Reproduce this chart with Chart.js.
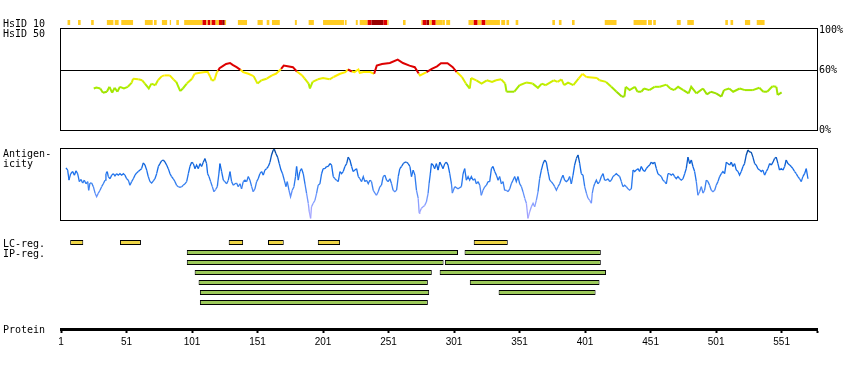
<!DOCTYPE html>
<html><head><meta charset="utf-8">
<script src="https://cdn.jsdelivr.net/npm/chart.js@4/dist/chart.umd.min.js"></script>
<style>html,body{margin:0;padding:0;background:#fff;}#wrap{position:relative;width:850px;height:370px;}</style>
</head><body><div id="wrap"><canvas id="c" width="850" height="370"></canvas></div>
<script>
// ---------------- DATA ----------------
const proteinLength = 577;
const proteinTicks = [1, 51, 101, 151, 201, 251, 301, 351, 401, 451, 501, 551];
const hsidTicks = [0, 60, 100];
const hsidThreshold = 60;
const trackLabels = ['HsID 10', 'HsID 50', 'Antigen-', 'icity', 'LC-reg.', 'IP-reg.', 'Protein'];

// HsID 10: [start residue, end residue, level] level 1 = low, 2 = high, 3 = very high
const hsid10Segments = [
  [6,8,1],[14,16,1],[24,26,1],[36,41,1],[42,45,1],[47,56,1],[65,71,1],[72,74,1],[78,82,1],[84,85,1],
  [89,91,1],[95,109,1],[109,112,2],[112,113,1],[113,115,2],[115,116,1],[116,119,2],[119,121.5,1],
  [121.5,124,2],[124,126,3],[126,127,1],
  [136,143,1],[151,155,1],[158,160,1],[162,168,1],[179.5,181,1],[190,194,1],[201,217,1],[217.6,219,1],
  [226,227.5,1],[229,235,1],[235,238,2],[238,247,3],[247,250,2],[250,251,1],[262,264,1],[276,277,1],
  [277,280,2],[280,282,3],[282,284,1],[284,287,2],[287,292,1],[292,294,1],[295,298,1],[312,316,1],
  [316,319,2],[319,322,1],[322,325,2],[325,336,1],[337,340,1],[341,343,1],[348,350,1],[376,378,1],
  [381,383,1],[391,393,1],[416,425,1],[438,448,1],[449,452,1],[453,455,1],[471,474,1],[479,484,1],
  [508,510,1],[512,514,1],[523,527,1],[532,538,1]
];

// HsID 50: [residue, percent identity]
const hsid50 = [
  [26,42.0],[28,43.0],[31,42.0],[33,37.8],[36,38.8],[38,43.7],[40,37.8],[42,42.7],[44,38.8],[46,43.7],
  [49,42.0],[52,43.7],[55,47.9],[56,51.8],[60,51.2],[63,50.2],[65,46.9],[68,42.0],[70,46.9],[73,45.3],
  [75,50.2],[78,54.4],[80,55.1],[84,55.1],[87,50.8],[89,48.6],[92,39.4],[94,42.0],[97,46.9],[101,51.8],
  [103,56.7],[107,57.7],[111,58.4],[113,58.4],[115,53.5],[116,50.2],[118,50.2],[120,58.4],[121,60.0],[122,62.3],
  [125,64.9],[127,66.5],[130,67.5],[132,65.6],[135,63.3],[138,60.7],[140,58.4],[144,56.7],[148,54.4],[151,46.9],
  [154,50.2],[158,51.8],[162,55.1],[165,56.7],[169,61.6],[171,64.9],[174,64.2],[178,63.3],[181,59.0],[185,55.1],
  [187,51.8],[190,46.9],[191,42.0],[193,48.6],[197,51.2],[201,52.5],[206,51.2],[209,53.5],[214,56.7],[218,58.4],
  [220,61.0],[223,59.0],[225,58.4],[228,61.0],[229,57.7],[232,58.4],[237,58.4],[240,56.7],[242,64.9],[246,66.5],
  [252,67.5],[258,70.8],[262,67.5],[267,64.9],[271,63.3],[274,57.0],[275,55.1],[280,58.4],[284,61.6],[288,64.2],
  [291,67.2],[296,67.2],[300,63.3],[303,58.4],[307,53.5],[310,46.9],[313,42.0],[314,52.5],[318,50.2],[322,46.9],
  [326,50.2],[330,48.6],[333,50.2],[337,51.2],[340,46.9],[341,38.8],[347,38.8],[351,45.3],[356,47.9],[361,46.9],
  [365,42.7],[368,46.9],[371,45.3],[377,50.2],[380,48.6],[383,51.2],[385,45.3],[388,47.9],[392,45.3],[396,51.8],
  [399,56.7],[402,53.5],[410,52.5],[412,50.2],[417,48.6],[421,43.7],[425,38.8],[429,33.9],[431,33.9],[432,43.7],
  [435,40.4],[439,43.7],[441,38.8],[444,38.8],[446,42.0],[450,40.4],[454,43.7],[458,43.7],[463,45.9],[466,42.0],
  [469,40.4],[472,43.7],[476,40.4],[480,37.1],[482,43.7],[486,37.1],[491,42.0],[494,36.1],[497,38.8],[501,37.1],
  [505,33.9],[507,40.4],[511,42.0],[514,38.8],[519,42.0],[523,40.4],[529,40.4],[534,42.7],[537,38.8],[540,38.8],
  [544,44.3],[547,43.7],[548,35.5],[551,38.1]
];

// Antigenicity: [residue, relative score 0-100]
const antigenicity = [
  [4.8,73],[6.1,70],[7.1,56],[8.4,65],[9.9,68],[11.2,63],[12.5,69],[13.7,65],[15.0,54],[16.3,57],
  [17.5,52],[18.8,56],[20.1,51],[21.4,54],[22.1,42],[23.1,52],[24.4,52],[25.7,47],[27.0,38],[28.2,33],
  [29.5,38],[30.8,42],[32.0,47],[33.3,51],[34.6,56],[35.3,65],[36.3,68],[37.1,61],[38.4,58],[39.7,63],
  [40.9,65],[42.2,62],[43.5,65],[44.7,63],[46.0,65],[47.3,63],[48.6,65],[49.8,63],[51.1,58],[52.4,56],
  [53.6,49],[54.9,54],[56.2,58],[57.5,63],[58.7,66],[60.0,68],[61.3,70],[62.5,72],[63.8,80],[65.1,77],
  [66.4,70],[67.6,61],[68.9,54],[70.2,52],[71.5,55],[72.7,58],[74.0,65],[75.3,75],[76.5,79],[77.8,83],
  [79.1,84],[80.4,81],[81.6,77],[82.9,72],[84.2,65],[85.4,61],[86.7,58],[88.0,54],[89.2,49],[90.5,47],
  [91.8,46],[93.1,47],[94.3,49],[95.6,51],[96.9,54],[98.2,65],[99.4,75],[100.7,81],[102.0,79],[103.2,72],
  [104.5,77],[105.8,72],[107.1,79],[108.3,75],[109.6,81],[110.9,86],[112.1,79],[112.9,65],[113.9,61],[115.2,54],
  [116.5,47],[117.7,40],[119.0,43],[120.3,47],[121.5,65],[122.3,79],[123.6,68],[124.9,56],[126.1,54],[127.4,51],
  [128.7,56],[130.0,68],[131.2,54],[132.5,49],[133.8,51],[135.0,52],[136.3,47],[137.6,51],[138.8,44],[140.1,54],
  [141.4,56],[142.7,54],[143.9,61],[145.2,56],[146.5,47],[147.7,40],[149.0,44],[150.3,54],[151.5,58],[152.8,65],
  [154.1,68],[155.4,63],[156.6,70],[157.9,72],[159.2,75],[160.5,81],[161.7,91],[163.0,98],[163.8,99],[165.0,93],
  [166.3,88],[167.6,79],[168.9,70],[170.1,65],[171.4,56],[172.7,47],[173.7,54],[175.0,42],[176.2,33],[177.5,42],
  [178.8,47],[180.0,61],[180.8,75],[182.1,56],[183.3,68],[184.6,72],[185.9,65],[187.2,51],[188.4,38],[189.7,24],
  [190.5,12],[191.5,3],[192.2,19],[193.5,24],[194.8,28],[196.1,38],[197.3,49],[198.6,51],[199.9,65],[201.1,72],
  [202.4,72],[203.7,75],[205.0,75],[206.2,79],[207.5,77],[208.8,61],[210.0,58],[211.3,56],[212.6,54],[213.9,68],
  [215.1,65],[216.4,68],[217.7,75],[219.0,79],[220.2,88],[221.5,84],[222.8,75],[224.0,68],[225.3,70],[226.6,72],
  [227.9,61],[229.1,58],[230.4,54],[231.7,61],[232.9,54],[234.2,56],[235.5,51],[236.7,56],[238.0,54],[239.3,42],
  [240.6,38],[241.8,35],[243.1,40],[244.4,47],[245.6,49],[246.9,61],[248.2,63],[249.5,56],[250.7,54],[252.0,58],
  [253.3,51],[254.5,42],[255.8,40],[257.1,42],[258.4,61],[259.6,72],[260.9,75],[262.2,79],[263.4,81],[264.7,81],
  [266.0,79],[267.3,75],[268.5,61],[269.8,70],[271.1,63],[272.3,42],[273.6,31],[274.4,10],
  [274.8,12],[276.1,17],[277.3,19],[278.6,21],[279.9,26],[281.2,38],[281.9,51],[282.9,65],[283.7,79],[285.0,77],
  [286.2,72],[287.5,79],[288.8,70],[290.1,81],[291.3,77],[292.6,72],[293.9,79],[295.1,81],[296.4,77],[297.7,65],
  [299.0,51],[299.7,38],[301.5,47],[304.0,44],[306.6,47],[307.9,65],[309.1,72],[310.4,56],[311.7,61],[312.9,56],
  [314.2,61],[315.5,56],[316.8,58],[318.0,51],[319.3,54],[320.6,49],[321.8,35],[323.1,42],[324.4,47],[325.7,49],
  [326.9,54],[328.2,54],[329.5,72],[330.7,75],[332.0,68],[333.3,63],[334.6,56],[335.8,61],[337.1,51],[338.4,54],
  [339.6,42],[340.9,42],[342.2,40],[343.5,44],[344.7,51],[346.0,56],[347.3,61],[348.5,54],[349.8,61],[351.1,51],
  [352.4,47],[353.6,40],[354.9,31],[356.2,24],[357.4,3],[358.7,12],[360.0,19],[361.3,24],[362.5,19],[363.8,28],
  [365.1,40],[366.3,58],[367.6,70],[368.9,79],[370.2,84],[371.4,81],[372.7,68],[374.0,56],[375.2,54],[376.5,51],
  [377.8,47],[379.1,42],[380.3,47],[381.6,51],[382.9,58],[384.1,63],[385.4,56],[386.7,54],[388.0,56],[389.2,61],
  [390.5,51],[391.8,63],[393.0,77],[394.3,86],[395.6,91],[396.9,79],[398.1,65],[399.4,63],[400.7,47],[402.0,38],
  [403.2,31],[404.5,28],[405.8,24],[406.5,38],[407.5,47],[408.3,51],[409.6,56],[410.8,51],[412.1,54],[413.4,61],
  [414.7,65],[415.9,56],[417.2,56],[418.5,58],[419.8,54],[421.0,56],[422.3,61],[423.6,63],[424.8,65],[426.1,63],
  [427.4,61],[428.7,54],[429.9,47],[431.2,49],[432.5,47],[433.7,44],[435.0,42],[436.3,44],[437.6,70],[438.8,68],
  [440.1,70],[441.4,72],[442.6,68],[443.9,75],[445.2,70],[446.5,68],[447.7,72],[449.0,75],[450.3,77],[451.5,81],
  [452.8,79],[454.1,81],[455.4,72],[456.6,65],[457.9,63],[459.2,61],[460.4,56],[461.7,54],[463.0,51],[464.3,65],
  [465.5,65],[466.8,63],[468.1,65],[469.3,61],[470.6,58],[471.9,61],[473.2,58],[474.4,56],[475.7,58],[477.0,65],
  [478.2,72],[479.5,88],[480.8,79],[482.1,84],[483.3,75],[484.6,68],[485.9,54],[487.1,35],[488.4,40],[489.7,47],
  [491.0,38],[492.2,42],[493.5,56],[494.8,54],[496.0,49],[497.3,42],[498.6,40],[499.9,42],[501.1,49],[502.4,54],
  [503.7,61],[505.0,65],[506.2,68],[507.5,65],[508.8,81],[510.0,79],[511.3,77],[512.6,81],[513.8,75],[515.1,79],
  [516.4,70],[517.7,68],[518.9,63],[520.2,68],[521.5,75],[522.7,79],[524.0,91],[525.3,98],[526.6,95],[527.8,95],
  [529.1,88],[530.4,79],[531.6,77],[532.9,72],[534.2,70],[535.5,68],[536.7,70],[538.0,63],[539.3,68],[540.5,72],
  [541.8,79],[543.1,77],[544.4,81],[545.6,86],[546.9,88],[548.2,79],[549.4,70],[550.7,72],[552.0,70],[553.3,75],
  [554.5,84],[555.8,79],[557.1,77],[558.3,75],[559.6,72],[560.9,68],[562.2,65],[563.4,61],[564.7,58],[566.0,54],
  [567.2,61],[568.5,65],[569.8,72],[571.1,58]
];

// Low-complexity regions: [start, end]
const lcRegions = [[8,18],[46,62],[129,140],[159,171],[197,214],[316,342]];
// Interaction-prone regions: [row, start, end]
const ipRegions = [
  [1,97,304],[1,309,413],
  [2,97,293],[2,294,413],
  [3,103,284],[3,290,417],
  [4,106,281],[4,313,412],
  [5,107,282],[5,335,409],
  [6,107,281]
];

// ---------------- LAYOUT / STYLE ----------------
const AREA = {top: 10, bottom: 329, left: 61, rightAxis: 33, xAxisH: 41};
const BOXES = [{top: 28.5, bottom: 130.5}, {top: 148.5, bottom: 220.5}];
const MONO = '"DejaVu Sans Mono", monospace';
const LABEL_POS = [27, 37, 157, 167, 247, 257, 333];

function band(v1, p1, v2, p2, reverse) {
  const H = AREA.bottom - AREA.top;
  if (!reverse) {
    const k = (p1 - p2) / (v2 - v1);
    const min = v1 - (AREA.bottom - p1) / k;
    return {min, max: min + H / k, offset: false};
  }
  const k = (p2 - p1) / (v2 - v1);
  const min = v1 - (p1 - AREA.top) / k;
  return {min, max: min + H / k, reverse: true, offset: false};
}
function lerpStops(stops, v) {
  if (v <= stops[0][0]) return stops[0][1];
  for (let i = 1; i < stops.length; i++) {
    if (v <= stops[i][0]) {
      const [a, ca] = stops[i - 1], [b, cb] = stops[i];
      const t = (v - a) / (b - a);
      return ca.map((c, j) => Math.round(c + (cb[j] - c) * t));
    }
  }
  return stops[stops.length - 1][1];
}
const rgb = c => `rgb(${c[0]},${c[1]},${c[2]})`;
const hsidColor = v => v >= hsidThreshold ? '#DD0000' :
  rgb(lerpStops([[36,[0x99,0xDD,0x00]],[44,[0xAA,0xEE,0x00]],[50,[0xDD,0xEE,0x00]],[55,[0xFF,0xEE,0x00]]], v));
const antiColor = v => rgb(lerpStops([[5,[0xB0,0xA8,0xFF]],[30,[0x77,0x99,0xFF]],[50,[0x33,0x7E,0xEE]],[72,[0x11,0x6A,0xEA]],[100,[0x00,0x44,0x99]]], v));
const hsid10Colors = {1: '#FFCC22', 2: '#DD0000', 3: '#990000'};

const decor = {
  id: 'decor',
  beforeDatasetsDraw(chart) {
    const {ctx, chartArea: {left, right}} = chart;
    ctx.save();
    ctx.strokeStyle = '#000'; ctx.lineWidth = 1;
    BOXES.forEach(b => ctx.strokeRect(left - 0.5, b.top, right - left + 1, b.bottom - b.top));
    ctx.restore();
  },
  afterDraw(chart) {
    const ctx = chart.ctx;
    ctx.save();
    ctx.fillStyle = '#000'; ctx.font = '10px ' + MONO; ctx.textBaseline = 'alphabetic';
    trackLabels.forEach((t, i) => ctx.fillText(t, 3, LABEL_POS[i]));
    ctx.restore();
  }
};

const regionData = [
  ...lcRegions.map(([s, e]) => ({x: [s, e], y: 0, kind: 'lc'})),
  ...ipRegions.map(([r, s, e]) => ({x: [s, e], y: r, kind: 'ip'}))
];

new Chart(document.getElementById('c'), {
  type: 'line',
  data: {
    datasets: [
      {
        label: 'HsID 50', data: hsid50.map(([x, y]) => ({x, y})), xAxisID: 'x', yAxisID: 'yH',
        borderWidth: 2, pointRadius: 0, tension: 0, order: 1, borderColor: '#DD0000',
        segment: {borderColor: c => hsidColor((c.p0.parsed.y + c.p1.parsed.y) / 2)}
      },
      {
        label: '60%', data: [{x: 1, y: hsidThreshold}, {x: proteinLength + 1, y: hsidThreshold}],
        xAxisID: 'x', yAxisID: 'yH', borderColor: '#000', borderWidth: 1, pointRadius: 0, order: 5
      },
      {
        label: 'Antigenicity', data: antigenicity.map(([x, y]) => ({x, y})), xAxisID: 'x', yAxisID: 'yA',
        borderWidth: 1.3, pointRadius: 0, tension: 0, order: 1, borderColor: '#1166EE',
        segment: {borderColor: c => antiColor((c.p0.parsed.y + c.p1.parsed.y) / 2)}
      },
      {
        type: 'bar', label: 'HsID 10', indexAxis: 'y', xAxisID: 'x', yAxisID: 'yTop',
        data: hsid10Segments.map(([s, e, l]) => ({x: [s, e], y: 0, level: l})),
        backgroundColor: c => hsid10Colors[c.raw ? c.raw.level : 1],
        borderWidth: 0, barThickness: 5, inflateAmount: 0, order: 2
      },
      {
        type: 'bar', label: 'Regions', indexAxis: 'y', xAxisID: 'x', yAxisID: 'yTrk',
        data: regionData,
        backgroundColor: c => (c.raw && c.raw.kind === 'lc') ? '#EED546' : '#9CC95A',
        borderColor: '#000', borderWidth: 1, borderSkipped: false, barThickness: 5, inflateAmount: 0, order: 2
      }
    ]
  },
  options: {
    responsive: false, animation: false, devicePixelRatio: 1,
    layout: {padding: {top: AREA.top, left: AREA.left, right: 0, bottom: 0}},
    plugins: {legend: {display: false}, tooltip: {enabled: false}},
    scales: {
      x: {
        type: 'linear', position: 'bottom', min: 1, max: proteinLength + 1, bounds: 'data', offset: false, stacked: false,
        afterBuildTicks: s => { s.ticks = [...proteinTicks, proteinLength + 1].map(v => ({value: v})); },
        afterFit: s => { s.height = AREA.xAxisH; },
        ticks: {autoSkip: false, maxRotation: 0, color: '#000', padding: 3,
          font: {family: '"Liberation Sans", Arial, sans-serif', size: 10},
          callback: v => proteinTicks.includes(v) ? String(v) : ''},
        grid: {display: true, offset: false, drawOnChartArea: false, drawTicks: true, tickLength: 4, tickWidth: 2, tickColor: '#000'},
        border: {display: true, width: 3, color: '#000'}
      },
      yH: {
        type: 'linear', position: 'right', bounds: 'data', ...band(0, 130.5, 60, 70.5),
        afterBuildTicks: s => { s.ticks = hsidTicks.map(v => ({value: v})); },
        afterFit: s => { s.width = AREA.rightAxis; },
        ticks: {color: '#000', padding: 2, font: {family: MONO, size: 10}, callback: v => v + '%'},
        grid: {display: false, drawTicks: false}, border: {display: false}
      },
      yA: {type: 'linear', display: false, bounds: 'data', ...band(0, 220.5, 100, 148.5)},
      yTop: {type: 'linear', display: false, bounds: 'data', grid: {offset: false}, ...band(0, 22.5, 1, 12.5)},
      yTrk: {type: 'linear', display: false, bounds: 'data', grid: {offset: false}, ...band(0, 242.5, 1, 252.5, true)}
    }
  },
  plugins: [decor]
});
</script></body></html>
